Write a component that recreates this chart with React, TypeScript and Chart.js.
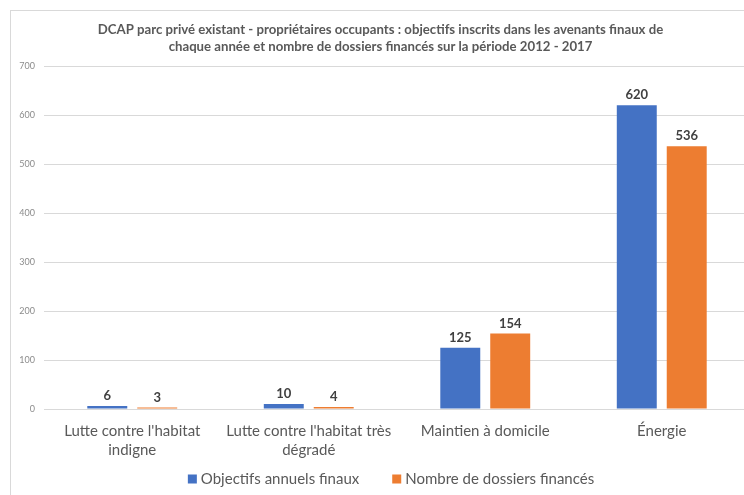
import React, { useEffect, useRef } from "react";
import { Chart, registerables } from "chart.js";

Chart.register(...registerables);

const categories: (string | string[])[] = [
  ["Lutte contre l'habitat", "indigne"],
  ["Lutte contre l'habitat très", "dégradé"],
  "Maintien à domicile",
  "Énergie",
];
const objectifs = [6, 10, 125, 620];
const dossiers = [3, 4, 154, 536];
const seriesNames = ["Objectifs annuels finaux", "Nombre de dossiers financés"];
const titleLines = [
  "DCAP parc privé existant - propriétaires occupants : objectifs inscrits dans les avenants finaux de",
  "chaque année et nombre de dossiers financés sur la période 2012 - 2017",
];
const yMax = 700;
const yStep = 100;

const FONT = "Lato, 'Open Sans', sans-serif";
const BLUE = "#4472C4";
const ORANGE = "#ED7D31";

const dataLabels = {
  id: "dataLabels",
  afterDatasetsDraw(chart: any) {
    const ctx = chart.ctx;
    ctx.save();
    ctx.font = `bold 13px ${FONT}`;
    ctx.fillStyle = "#404040";
    ctx.textAlign = "center";
    ctx.textBaseline = "alphabetic";
    chart.data.datasets.forEach((ds: any, i: number) => {
      const meta = chart.getDatasetMeta(i);
      meta.data.forEach((el: any, j: number) => {
        ctx.fillText(String(ds.data[j]), el.x, el.y - 6);
      });
    });
    ctx.restore();
  },
};

const customLegend = {
  id: "customLegend",
  afterDraw(chart: any) {
    const ctx = chart.ctx;
    ctx.save();
    ctx.font = `15px ${FONT}`;
    ctx.textBaseline = "middle";
    ctx.textAlign = "left";
    const box = 9;
    const gapText = 4;
    const gapItem = 33;
    const items = chart.data.datasets.map((ds: any) => ({
      label: ds.label,
      color: ds.backgroundColor,
      w: ctx.measureText(ds.label).width,
    }));
    const total =
      items.reduce((a: number, it: any) => a + box + gapText + it.w, 0) +
      gapItem * (items.length - 1);
    let x = chart.width / 2 + 4 - total / 2;
    const y = chart.chartArea.bottom + 70;
    items.forEach((it: any) => {
      ctx.fillStyle = it.color;
      ctx.fillRect(x, y - box / 2, box, box);
      x += box + gapText;
      ctx.fillStyle = "#595959";
      ctx.fillText(it.label, x, y);
      x += it.w + gapItem;
    });
    ctx.restore();
  },
};

export default function App() {
  const ref = useRef<HTMLCanvasElement | null>(null);
  useEffect(() => {
    if (!ref.current) return;
    const chart = new Chart(ref.current, {
      type: "bar",
      data: {
        labels: categories as any,
        datasets: [
          { label: seriesNames[0], data: objectifs, backgroundColor: BLUE },
          { label: seriesNames[1], data: dossiers, backgroundColor: ORANGE },
        ],
      },
      options: {
        animation: false,
        responsive: false,
        maintainAspectRatio: false,
        layout: { padding: { left: 0, right: 13, top: 0, bottom: 40 } },
        datasets: {
          bar: { categoryPercentage: 0.566, barPercentage: 0.8 },
        },
        plugins: {
          title: {
            display: true,
            text: titleLines,
            color: "#595959",
            font: { family: FONT, size: 13.2, weight: "bold", lineHeight: 17 / 13.2 },
            padding: { top: 10, bottom: 11 },
          },
          legend: { display: false },
          tooltip: { enabled: false },
        },
        scales: {
          x: {
            grid: { display: false, drawTicks: false },
            border: { display: false },
            ticks: {
              color: "#595959",
              font: { family: FONT, size: 15, lineHeight: 19 / 15 },
              padding: 13,
              maxRotation: 0,
              autoSkip: false,
            },
          },
          y: {
            min: 0,
            max: yMax,
            grid: { color: "#d9d9d9", drawTicks: false },
            border: { display: false },
            ticks: {
              stepSize: yStep,
              color: "#8c8c8c",
              font: { family: FONT, size: 9 },
              padding: 9,
            },
            afterFit(s: any) {
              s.width = 33;
            },
          },
        },
      },
      plugins: [dataLabels, customLegend],
    });
    return () => chart.destroy();
  }, []);

  return (
    <div
      style={{
        position: "fixed",
        left: 0,
        top: 0,
        width: 744,
        height: 495,
        overflow: "hidden",
        background: "#fff",
      }}
    >
      <div
        style={{
          position: "absolute",
          left: 10,
          top: 10,
          width: 752,
          height: 520,
          border: "1px solid #d9d9d9",
          background: "#fff",
        }}
      >
        <canvas ref={ref} width={752} height={502} style={{ display: "block", width: 752, height: 502 }} />
      </div>
    </div>
  );
}
